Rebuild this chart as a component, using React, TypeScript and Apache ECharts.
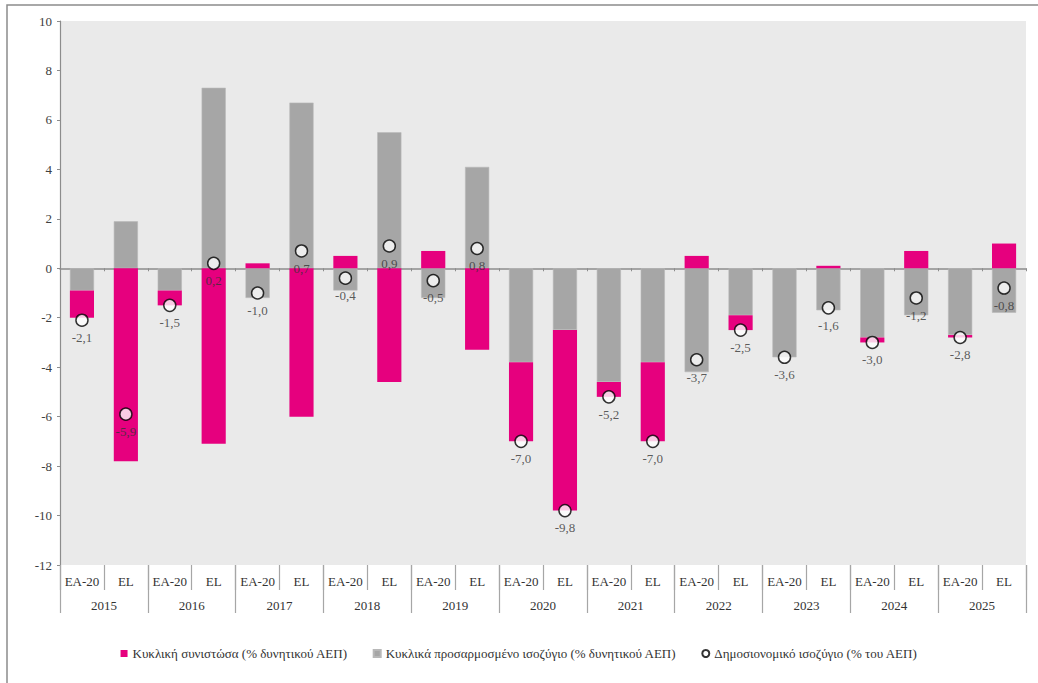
import React, { useEffect, useRef } from "react";
import * as echarts from "echarts";

const years = ["2015", "2016", "2017", "2018", "2019", "2020", "2021", "2022", "2023", "2024", "2025"];
const groups = ["EA-20", "EL"];
const categories = years.flatMap(() => groups);

const cyclicallyAdjusted = [-0.9, 1.9, -0.9, 7.3, -1.2, 6.7, -0.9, 5.5, -1.2, 4.1, -3.8, -2.5, -4.6, -3.8, -4.2, -1.9, -3.6, -1.7, -2.8, -1.9, -2.7, -1.8];
const cyclicalComponent = [-1.1, -7.8, -0.6, -7.1, 0.2, -6.0, 0.5, -4.6, 0.7, -3.3, -3.2, -7.3, -0.6, -3.2, 0.5, -0.6, 0.0, 0.1, -0.2, 0.7, -0.1, 1.0];
const fiscalBalance = [-2.1, -5.9, -1.5, 0.2, -1.0, 0.7, -0.4, 0.9, -0.5, 0.8, -7.0, -9.8, -5.2, -7.0, -3.7, -2.5, -3.6, -1.6, -3.0, -1.2, -2.8, -0.8];

const NAME_CYC = "Κυκλική συνιστώσα (% δυνητικού ΑΕΠ)";
const NAME_ADJ = "Κυκλικά προσαρμοσμένο ισοζύγιο (% δυνητικού ΑΕΠ)";
const NAME_BAL = "Δημοσιονομικό ισοζύγιο (% του ΑΕΠ)";

const FONT = "Liberation Serif";
const PINK = "#E6007E";
const GRAY = "#A6A6A6";

export default function App() {
  const ref = useRef<HTMLDivElement>(null);
  useEffect(() => {
    if (!ref.current) return;
    const chart = echarts.init(ref.current, undefined, { renderer: "svg" });
    const fmt = (v: number) => v.toFixed(1).replace(".", ",");
    chart.setOption({
      animation: false,
      textStyle: { fontFamily: FONT },
      graphic: [
        {
          type: "rect",
          shape: { x: 7, y: 5, width: 1100, height: 800 },
          style: { fill: "none", stroke: "#8c8c8c", lineWidth: 1.5 },
          silent: true,
        },
      ],
      grid: {
        left: 60,
        right: 12,
        top: 21,
        bottom: 118,
        show: true,
        backgroundColor: "#EAEAEA",
        borderWidth: 0,
      },
      legend: {
        left: "center",
        top: 642,
        itemGap: 25,
        itemWidth: 7,
        itemHeight: 7,
        textStyle: { fontFamily: FONT, fontSize: 13, color: "#333333" },
        data: [
          { name: NAME_CYC, icon: "rect" },
          { name: NAME_ADJ, icon: "rect" },
          { name: NAME_BAL, icon: "circle" },
        ],
      },
      xAxis: [
        {
          type: "category",
          data: categories,
          axisLine: { onZero: true, lineStyle: { color: "#8c8c8c", width: 1.5 } },
          axisTick: { show: true, interval: 0, length: 3, lineStyle: { color: "#8c8c8c" } },
          axisLabel: { show: false },
        },
        {
          type: "category",
          data: categories,
          position: "bottom",
          axisLine: { show: false, onZero: false },
          axisTick: { show: true, interval: 0, length: 25, lineStyle: { color: "#A6A6A6", width: 1.2 } },
          axisLabel: { interval: 0, margin: 10, fontFamily: FONT, fontSize: 13, color: "#333333" },
        },
        {
          type: "category",
          data: years,
          position: "bottom",
          axisLine: { show: false, onZero: false },
          axisTick: { show: true, interval: 0, length: 48, lineStyle: { color: "#A6A6A6", width: 1.2 } },
          axisLabel: { interval: 0, margin: 34, fontFamily: FONT, fontSize: 13, color: "#333333" },
        },
      ],
      yAxis: {
        type: "value",
        min: -12,
        max: 10,
        interval: 2,
        splitLine: { show: false },
        axisLine: { show: true, lineStyle: { color: "#8c8c8c", width: 1.2 } },
        axisTick: { show: true, length: 3, lineStyle: { color: "#8c8c8c" } },
        axisLabel: { margin: 8, fontFamily: FONT, fontSize: 13, color: "#404040" },
      },
      series: [
        {
          name: NAME_ADJ,
          type: "bar",
          stack: "total",
          xAxisIndex: 0,
          data: cyclicallyAdjusted,
          barCategoryGap: "45%",
          itemStyle: { color: GRAY, borderColor: "#B8B8B8", borderWidth: 0.6 },
        },
        {
          name: NAME_CYC,
          type: "bar",
          stack: "total",
          xAxisIndex: 0,
          data: cyclicalComponent,
          barCategoryGap: "45%",
          itemStyle: { color: PINK },
        },
        {
          name: NAME_BAL,
          type: "scatter",
          xAxisIndex: 0,
          data: fiscalBalance,
          symbol: "circle",
          symbolSize: 12,
          z: 5,
          itemStyle: { color: "#ffffff", borderColor: "#000000", borderWidth: 1.5 },
          label: {
            show: true,
            position: "bottom",
            distance: 4,
            fontFamily: FONT,
            fontSize: 13,
            color: "#333333",
            textBorderWidth: 0,
            formatter: (p: any) => fmt(p.value),
          },
        },
      ],
    });
    return () => chart.dispose();
  }, []);
  return (
    <div
      ref={ref}
      style={{ position: "fixed", left: 0, top: 0, width: 1038, height: 683, background: "#ffffff" }}
    />
  );
}
